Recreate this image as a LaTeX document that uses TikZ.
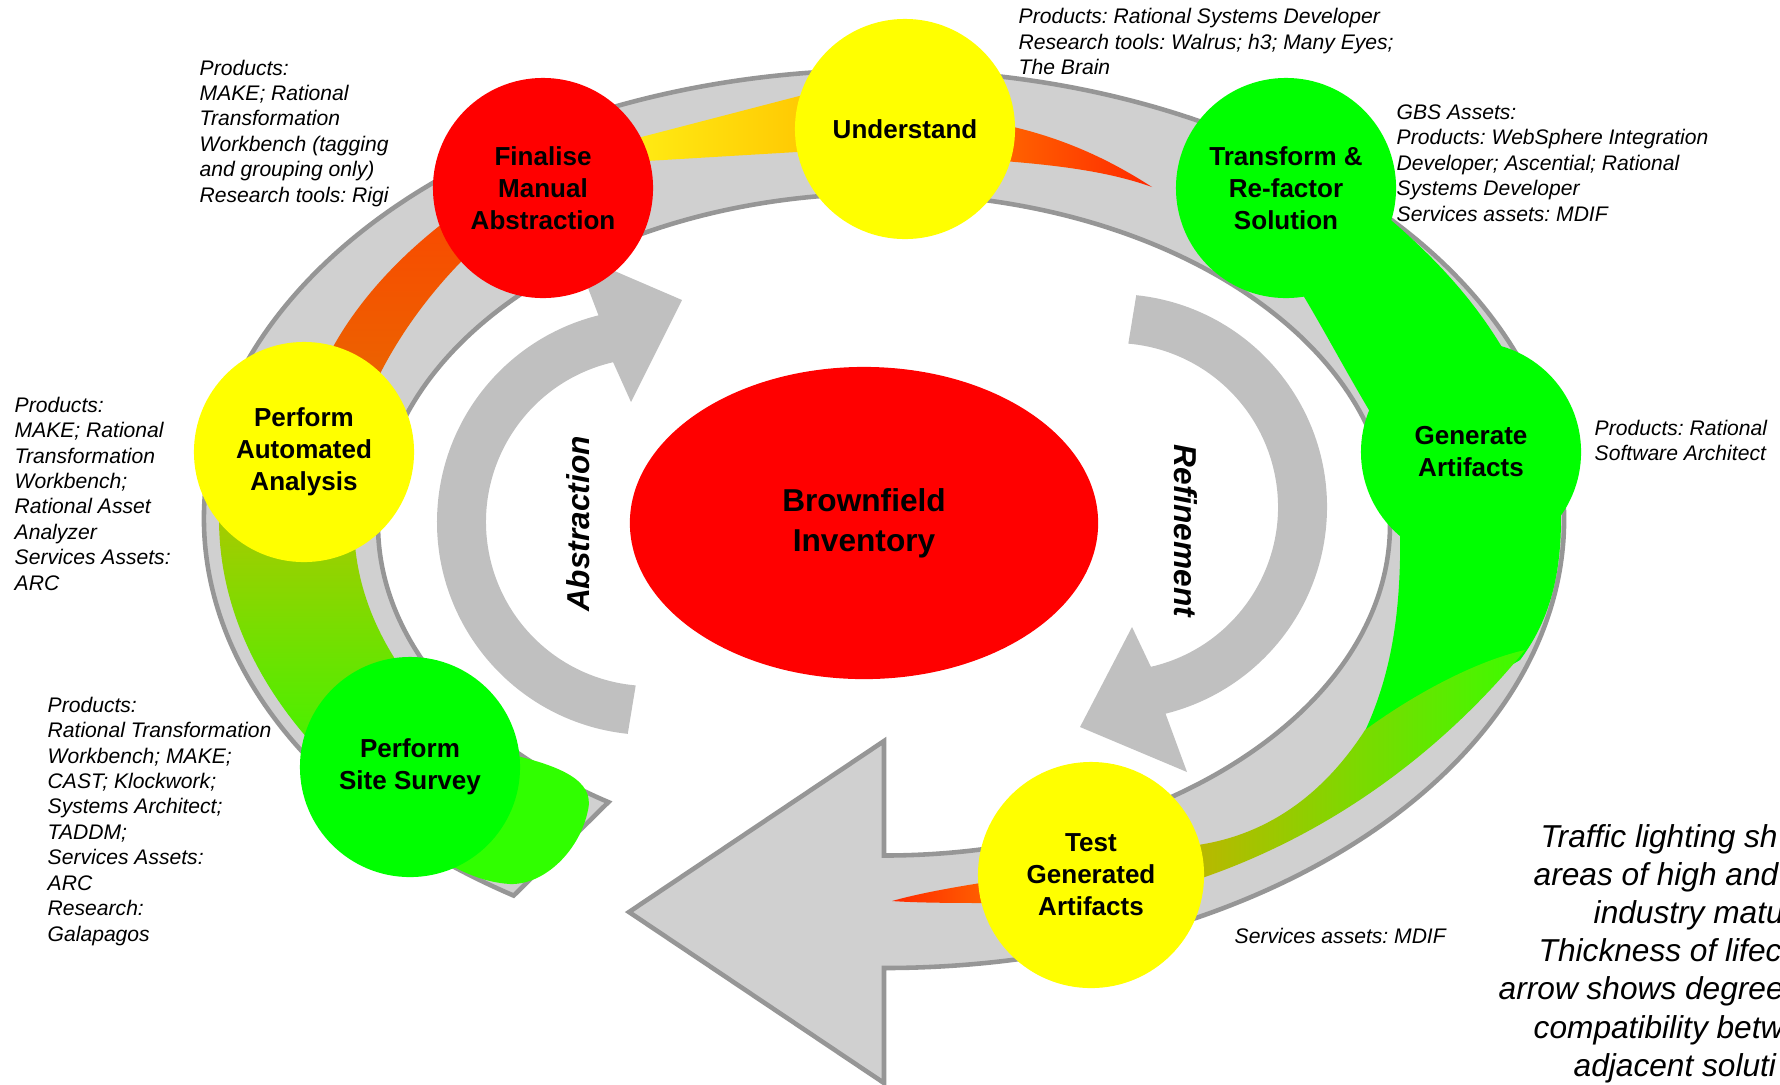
\documentclass[tikz,border=0pt]{standalone}
\usepackage{fontspec}
\setmainfont{Liberation Sans}
\usetikzlibrary{shapes.geometric}
\frenchspacing
\definecolor{stagered}{RGB}{255,0,0}
\definecolor{stageyellow}{RGB}{255,255,0}
\definecolor{stagegreen}{RGB}{0,255,0}
\definecolor{ringfill}{RGB}{208,208,208}
\definecolor{ringline}{RGB}{150,150,150}
\definecolor{cyclegray}{RGB}{192,192,192}
\definecolor{bandolive}{RGB}{185,195,0}
\definecolor{bandlime}{RGB}{50,250,0}
\definecolor{bandred}{RGB}{255,40,0}
\definecolor{bandvermilion}{RGB}{250,72,0}
\definecolor{bandorange}{RGB}{232,105,0}
\definecolor{bandamber}{RGB}{255,105,0}
\definecolor{bandyellow}{RGB}{255,236,20}
\definecolor{bandgold}{RGB}{255,196,0}
\definecolor{bandmoss}{RGB}{188,182,0}
\definecolor{bandspring}{RGB}{60,252,0}
\definecolor{blobgreen}{RGB}{48,255,0}

\tikzset{
    stage/.style={circle, minimum size=2.2cm, inner sep=0pt, align=center,
        font=\fontsize{7.4}{9.1}\selectfont\bfseries},
    note/.style={anchor=north west, inner sep=0pt, align=left,
        font=\fontsize{6}{7.25}\selectfont\itshape},
    remark/.style={anchor=base west, inner sep=0pt,
        font=\fontsize{9}{10.8}\selectfont\itshape},
    lifering/.style={fill=ringfill, draw=ringline, line width=1.3pt},
    cyclearrow/.style={fill=cyclegray},
    cyclelabel/.style={inner sep=0pt, font=\fontsize{9}{11}\selectfont\bfseries\itshape},
}

\begin{document}
\begin{tikzpicture}[x=0.01cm, y=-0.01cm]
    \useasboundingbox (0,0) rectangle (1780,1084);

    % Abstraction and refinement
    \fill[cyclearrow] ([shift={(650,522)}]96:213)
        arc[start angle=96, end angle=256, radius=213]
        -- (575,254) -- (682,300) -- (631,402)
        -- ([shift={(650,522)}]257:164)
        arc[start angle=257, end angle=95, radius=164] -- cycle;
    \fill[cyclearrow] ([shift={(1114,507)}]-84:213)
        arc[start angle=-84, end angle=76, radius=213]
        -- (1187,772) -- (1080,727) -- (1132,627)
        -- ([shift={(1114,507)}]77:164)
        arc[start angle=77, end angle=-85, radius=164] -- cycle;

    % Lifecycle ring
    \path[lifering] (884,855.5)
        arc[start angle=90, end angle=-237, x radius=506, y radius=331]
        -- ([shift={(884,519)}]-237:680 and 449)
        arc[start angle=-237, end angle=90, x radius=680, y radius=449]
        -- (884,1083) -- (629,912) -- (884,741) -- cycle;

    % Thickness bands between stages
    \shade[top color=bandolive, bottom color=bandlime] ([shift={(884,519)}]186:665 and 440)
        arc[start angle=186, end angle=141, x radius=665, y radius=440]
        -- ([shift={(884,524)}]141:530 and 350)
        arc[start angle=141, end angle=186, x radius=530, y radius=350] -- cycle;
    \fill[blobgreen] (500,752) .. controls (560,765) and (595,780) .. (588,810)
        .. controls (580,850) and (545,885) .. (510,884)
        .. controls (480,882) and (460,870) .. (440,860) -- cycle;
    \shade[top color=bandvermilion, bottom color=bandorange] (310,400)
        .. controls (335,320) and (400,250) .. (475,200) -- (478,245)
        .. controls (430,290) and (385,350) .. (360,420) -- cycle;
    \shade[left color=bandyellow, right color=bandgold]
        (630,140) -- (830,88) -- (830,150) -- (630,162) -- cycle;
    \shade[left color=bandamber, right color=bandred] (990,122)
        .. controls (1060,135) and (1110,160) .. (1152,187)
        .. controls (1110,172) and (1060,165) .. (990,160) -- cycle;
    \fill[stagegreen] (1300,290) .. controls (1330,340) and (1350,380) .. (1390,445)
        -- (1520,380) .. controls (1490,320) and (1450,270) .. (1385,215) -- cycle;
    \fill[stagegreen] (1400,520) .. controls (1402,620) and (1390,690) .. (1350,760)
        -- (1520,660) .. controls (1550,620) and (1565,570) .. (1560,490) -- cycle;
    \shade[left color=bandmoss, right color=bandspring] (1525,650)
        .. controls (1460,730) and (1350,830) .. (1190,882) -- (1190,846)
        .. controls (1260,838) and (1320,800) .. (1365,730)
        .. controls (1420,690) and (1480,660) .. (1525,650) -- cycle;
    \shade[left color=bandred, right color=bandamber] (892,901)
        .. controls (920,893) and (960,886) .. (1000,880) -- (1000,903)
        .. controls (960,903) and (920,903) .. (892,901) -- cycle;

    % Stages
    \node[stage, fill=stageyellow] (understand) at (905,129) {Understand};
    \node[stage, fill=stagered] (finalise) at (543,188) {Finalise\\Manual\\Abstraction};
    \node[stage, fill=stagegreen] (transform) at (1286,188) {Transform \&\\Re-factor\\Solution};
    \node[stage, fill=stagegreen] (generate) at (1471,452) {Generate\\Artifacts};
    \node[stage, fill=stageyellow, minimum size=2.26cm] (test) at (1091,875) {Test\\Generated\\Artifacts};
    \node[stage, fill=stagegreen] (survey) at (410,767) {Perform\\Site Survey};
    \node[stage, fill=stageyellow] (analysis) at (304,452) {Perform\\Automated\\Analysis};
    \node[ellipse, fill=stagered, minimum width=4.68cm, minimum height=3.12cm, inner sep=0pt,
        align=center, font=\fontsize{9}{11.3}\selectfont\bfseries] (inventory) at (864,523)
        {Brownfield\\Inventory};

    \node[cyclelabel, rotate=90] (abstraction) at (578,524) {Abstraction};
    \node[cyclelabel, rotate=-90] (refinement) at (1186,531) {Refinement};

    % Tools per stage
    \node[note] (finalisenote) at (199,59) {Products:\\MAKE; Rational\\Transformation\\Workbench (tagging\\and grouping only)\\Research tools: Rigi};
    \node[note] (understandnote) at (1018,8) {Products: Rational Systems Developer\\Research tools: Walrus; h3; Many Eyes;\\The Brain};
    \node[note] (transformnote) at (1396,104) {GBS Assets:\\Products: WebSphere Integration\\Developer; Ascential; Rational\\Systems Developer\\Services assets: MDIF};
    \node[note] (generatenote) at (1594,419) {Products: Rational\\Software Architect};
    \node[note] (analysisnote) at (14,396) {Products:\\MAKE; Rational\\Transformation\\Workbench;\\Rational Asset\\Analyzer\\Services Assets:\\ARC};
    \node[note] (surveynote) at (47,696) {Products:\\Rational Transformation\\Workbench; MAKE;\\CAST; Klockwork;\\Systems Architect;\\TADDM;\\Services Assets:\\ARC\\Research:\\Galapagos};
    \node[note] (testnote) at (1234,927) {Services assets: MDIF};

    % Legend, cut at the right edge
    \node[remark] (remark1) at (1540,847) {Traffic lighting sh};
    \node[remark] (remark2) at (1533,885) {areas of high and};
    \node[remark] (remark3) at (1593,923) {industry matu};
    \node[remark] (remark4) at (1538,961) {Thickness of lifec};
    \node[remark] (remark5) at (1498,999) {arrow shows degree};
    \node[remark] (remark6) at (1533,1038) {compatibility betw};
    \node[remark] (remark7) at (1573,1076) {adjacent soluti};
\end{tikzpicture}
\end{document}
